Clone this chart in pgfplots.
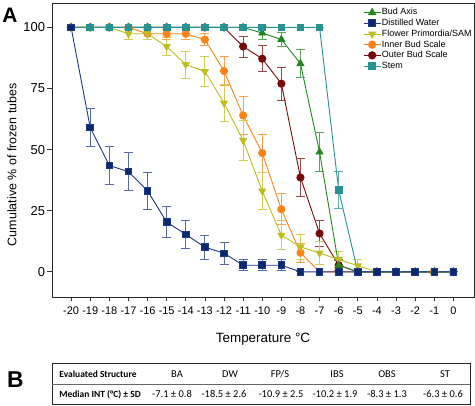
\documentclass[border=0pt]{standalone}
\usepackage{pgfplots}
\usepackage{pgfplotstable}
\pgfplotsset{compat=1.18}
\usepackage{fontspec}
\setmainfont{Liberation Sans}
\newfontfamily\calibri{Carlito}

\definecolor{bacol}{RGB}{30,135,30}
\definecolor{dwcol}{RGB}{30,55,135}
\definecolor{dwfill}{RGB}{10,40,110}
\definecolor{fpcol}{RGB}{190,190,30}
\definecolor{ibscol}{RGB}{255,130,20}
\definecolor{obscol}{RGB}{120,10,10}
\definecolor{stcol}{RGB}{40,145,145}

\pgfplotstableread{
x y e
-20 100 0
-19 100 0
-18 100 0
-17 100 0
-16 100 0
-15 100 0
-14 100 0
-13 100 0
-12 100 0
-11 100 0
-10 97.7 2.5
-9 95.1 3.0
-8 85.2 5.7
-7 49.0 8.0
-6 2.7 2.5
-5 0 0
-4 0 0
-3 0 0
-2 0 0
-1 0 0
0 0 0
}\ba

\pgfplotstableread{
x y e
-20 100 0
-19 59.0 7.9
-18 43.5 7.9
-17 41.0 7.9
-16 33.1 7.6
-15 20.4 6.5
-14 15.3 5.8
-13 10.1 4.9
-12 7.6 4.4
-11 2.7 2.2
-10 2.7 2.2
-9 2.7 2.2
-8 0 0
-7 0 0
-6 0 0
-5 0 0
-4 0 0
-3 0 0
-2 0 0
-1 0 0
0 0 0
}\dw

\pgfplotstableread{
x y e
-20 100 0
-19 100 0
-18 100 0
-17 97.4 2.5
-16 97.4 2.5
-15 92.2 3.5
-14 84.8 5.5
-13 82.0 6.0
-12 69.1 7.5
-11 53.8 8.2
-10 33.1 7.7
-9 15.0 6.0
-8 10.2 5.0
-7 7.7 4.6
-6 5.0 3.3
-5 2.5 2.4
-4 0 0
-3 0 0
-2 0 0
-1 0 0
0 0 0
}\fps

\pgfplotstableread{
x y e
-20 100 0
-19 100 0
-18 100 0
-17 100 0
-16 97.4 2.5
-15 97.4 2.5
-14 97.4 2.5
-13 95.0 2.5
-12 82.2 6.0
-11 64.0 7.8
-10 48.6 7.8
-9 25.6 6.4
-8 7.8 4.0
-7 0 0
-6 0 0
-5 0 0
-4 0 0
-3 0 0
-2 0 0
-1 0 0
0 0 0
}\ibs

\pgfplotstableread{
x y e
-20 100 0
-19 100 0
-18 100 0
-17 100 0
-16 100 0
-15 100 0
-14 100 0
-13 100 0
-12 100 0
-11 92.2 4.3
-10 87.2 5.3
-9 77.0 6.7
-8 38.6 7.8
-7 15.7 5.4
-6 2.7 2.0
-5 0 0
-4 0 0
-3 0 0
-2 0 0
-1 0 0
0 0 0
}\obs

\pgfplotstableread{
x y e
-20 100 0
-19 100 0
-18 100 0
-17 100 0
-16 100 0
-15 100 0
-14 100 0
-13 100 0
-12 100 0
-11 100 0
-10 100 0
-9 100 0
-8 100 0
-7 100 0
-6 33.4 7.6
-5 0 0
-4 0 0
-3 0 0
-2 0 0
-1 0 0
0 0 0
}\st

\begin{document}
\begin{tikzpicture}
\useasboundingbox (0,0) rectangle (475bp,406bp);
\begin{axis}[
  at={(52bp,109bp)}, anchor=south west,
  scale only axis, width=422bp, height=294bp,
  xmin=-21, xmax=1.08, ymin=-10.3, ymax=110,
  xtick={-20,-19,...,0}, ytick={0,25,50,75,100},
  tick align=outside, xtick pos=left, ytick pos=left,
  major tick length=4.5bp,
  tick style={black!80, line width=0.7bp},
  axis line style={black!85, line width=0.8bp},
  /pgf/number format/assume math mode=true,
  xticklabel style={font=\fontsize{11}{12}\selectfont, yshift=-2bp},
  yticklabel style={font=\fontsize{13}{14}\selectfont, xshift=1bp},
  xlabel={Temperature °C},
  xlabel style={font=\fontsize{13.5}{15}\selectfont, at={(axis description cs:0.5,-0.143)}, anchor=center},
  ylabel={Cumulative \% of frozen tubes},
  ylabel style={font=\fontsize{12.5}{13}\selectfont, at={(axis description cs:-0.095,0.45)}, anchor=center},
  legend style={at={(axis description cs:0.737,0.985)}, anchor=north west, draw=none, fill=none,
    font=\fontsize{9}{10}\selectfont, inner sep=0pt, row sep=0.8bp,
    nodes={inner sep=0.8bp, text height=6.5bp, text depth=1.8bp}},
  legend cell align=left,
  every axis plot/.append style={line width=0.9bp},
]
\addlegendimage{color=bacol, mark=triangle*, mark size=4bp, mark options={fill=bacol}}
\addlegendentry{Bud Axis}
\addlegendimage{color=dwcol, mark=square*, mark size=3.4bp, mark options={fill=dwfill}}
\addlegendentry{Distilled Water}
\addlegendimage{color=fpcol, mark=triangle*, mark size=4bp, mark options={fill=fpcol, rotate=180}}
\addlegendentry{Flower Primordia/SAM}
\addlegendimage{color=ibscol, mark=*, mark size=3.7bp, mark options={fill=ibscol}}
\addlegendentry{Inner Bud Scale}
\addlegendimage{color=obscol, mark=*, mark size=3.7bp, mark options={fill=obscol}}
\addlegendentry{Outer Bud Scale}
\addlegendimage{color=stcol, mark=square*, mark size=3.4bp, mark options={fill=stcol}}
\addlegendentry{Stem}

\addplot[forget plot, color=obscol, mark=*, mark size=3.6bp, mark options={fill=obscol},
  error bars/.cd, y dir=both, y explicit,
  error bar style={obscol!75, line width=0.9bp},
  error mark options={rotate=90, mark size=4.5bp, obscol!75, line width=0.9bp}]
  table[x=x, y=y, y error=e]{\obs};
\addplot[forget plot, color=ibscol, mark=*, mark size=3.6bp, mark options={fill=ibscol},
  error bars/.cd, y dir=both, y explicit,
  error bar style={ibscol!75, line width=0.9bp},
  error mark options={rotate=90, mark size=4.5bp, ibscol!75, line width=0.9bp}]
  table[x=x, y=y, y error=e]{\ibs};
\addplot[forget plot, color=fpcol, mark=triangle*, mark size=3.9bp, mark options={fill=fpcol, rotate=180},
  error bars/.cd, y dir=both, y explicit,
  error bar style={fpcol!75, line width=0.9bp},
  error mark options={rotate=90, mark size=4.5bp, fpcol!75, line width=0.9bp}]
  table[x=x, y=y, y error=e]{\fps};
\addplot[forget plot, color=bacol, mark=triangle*, mark size=3.9bp, mark options={fill=bacol},
  error bars/.cd, y dir=both, y explicit,
  error bar style={bacol!75, line width=0.9bp},
  error mark options={rotate=90, mark size=4.5bp, bacol!75, line width=0.9bp}]
  table[x=x, y=y, y error=e]{\ba};
\addplot[forget plot, color=stcol, mark=square*, mark size=3.3bp, mark options={fill=stcol},
  error bars/.cd, y dir=both, y explicit,
  error bar style={stcol!75, line width=0.9bp},
  error mark options={rotate=90, mark size=4.5bp, stcol!75, line width=0.9bp}]
  table[x=x, y=y, y error=e]{\st};
\addplot[forget plot, color=dwcol, mark=square*, mark size=3.3bp, mark options={fill=dwfill},
  error bars/.cd, y dir=both, y explicit,
  error bar style={dwcol!75, line width=0.9bp},
  error mark options={rotate=90, mark size=4.5bp, dwcol!75, line width=0.9bp}]
  table[x=x, y=y, y error=e]{\dw};
\end{axis}

% panel letters
\node[font=\fontsize{21}{22}\selectfont\bfseries] at (10bp,391bp) {A};
\node[font=\fontsize{23}{24}\selectfont\bfseries] at (15.5bp,26bp) {B};

% table of panel B
\draw[line width=0.9bp, black!85] (52bp,2bp) rectangle (470bp,42.7bp);
\draw[line width=0.4bp, black!60] (52bp,21.7bp) -- (470bp,21.7bp);
\begin{scope}[every node/.style={font=\calibri\fontsize{10.5}{11}\selectfont, inner sep=0pt}]
\node[font=\calibri\bfseries\fontsize{9.5}{10}\selectfont] at (98bp,31.7bp) {Evaluated Structure};
\node at (177bp,31.7bp) {BA};
\node at (230bp,31.7bp) {DW};
\node at (280bp,31.7bp) {FP/S};
\node at (337bp,31.7bp) {IBS};
\node at (387bp,31.7bp) {OBS};
\node at (445bp,31.7bp) {ST};
\node[font=\calibri\bfseries\fontsize{9.5}{10}\selectfont] at (100bp,11.7bp) {Median INT (°C) ± SD};
\node at (172bp,11.7bp) {-7.1 ± 0.8};
\node at (224bp,11.7bp) {-18.5 ± 2.6};
\node at (281bp,11.7bp) {-10.9 ± 2.5};
\node at (335bp,11.7bp) {-10.2 ± 1.9};
\node at (387bp,11.7bp) {-8.3 ± 1.3};
\node at (443bp,11.7bp) {-6.3 ± 0.6};
\end{scope}
\end{tikzpicture}
\end{document}
